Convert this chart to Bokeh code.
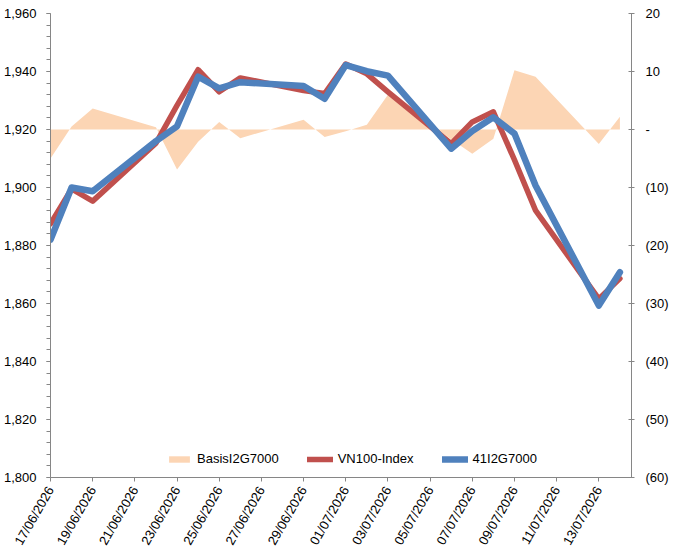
import math
from datetime import datetime, timedelta

from bokeh.plotting import figure
from bokeh.models import (Range1d, LinearAxis, FixedTicker, DatetimeTickFormatter,
                          NumeralTickFormatter, Legend, LegendItem, ColumnDataSource)
from bokeh.embed import file_html
from bokeh.resources import INLINE

# Trading days
dates = ["17/06/2026", "18/06/2026", "19/06/2026", "22/06/2026", "23/06/2026",
         "24/06/2026", "25/06/2026", "26/06/2026", "29/06/2026", "30/06/2026",
         "01/07/2026", "02/07/2026", "03/07/2026", "06/07/2026", "07/07/2026",
         "08/07/2026", "09/07/2026", "10/07/2026", "13/07/2026", "14/07/2026"]

# VN100 index level (left axis)
vn100 = [1887.5, 1899.5, 1895.3, 1915.3, 1928.3, 1940.6, 1933.0, 1937.8, 1933.4, 1932.4,
         1942.6, 1939.2, 1933.0, 1915.1, 1922.6, 1926.1, 1909.5, 1892.1, 1861.6, 1868.6]

# Futures contract 41I2G7000 (left axis)
fut = [1882.0, 1900.0, 1898.7, 1916.0, 1921.1, 1938.2, 1934.2, 1936.3, 1935.0, 1930.6,
       1942.2, 1940.1, 1938.6, 1913.4, 1919.5, 1924.2, 1918.6, 1900.7, 1859.3, 1870.8]

# Basis (right axis)
basis = [-5.0, 0.5, 3.6, 0.4, -6.9, -2.1, 1.3, -1.5, 1.7, -1.3,
         -0.3, 0.8, 6.0, -1.7, -4.2, -1.6, 10.2, 9.1, -2.5, 2.2]

x_tick_labels = ["17/06/2026", "19/06/2026", "21/06/2026", "23/06/2026", "25/06/2026",
                 "27/06/2026", "29/06/2026", "01/07/2026", "03/07/2026", "05/07/2026",
                 "07/07/2026", "09/07/2026", "11/07/2026", "13/07/2026"]

left_ticks = [1800, 1820, 1840, 1860, 1880, 1900, 1920, 1940, 1960]
right_ticks = [-60, -50, -40, -30, -20, -10, 0, 10, 20]
right_labels = {v: ("-" if v == 0 else (f"({abs(v)})" if v < 0 else str(v))) for v in right_ticks}

FONT = "Liberation Sans"
FSIZE = "13px"
AXIS_COLOR = "#868686"

EPOCH = datetime(1970, 1, 1)


def to_ms(d):
    return (d - EPOCH).total_seconds() * 1000.0


xs = [datetime.strptime(d, "%d/%m/%Y") for d in dates]
src = ColumnDataSource(dict(x=xs, vn100=vn100, fut=fut, basis=basis, zero=[0] * len(xs)))

x_start = xs[0]
x_end = x_start + timedelta(days=27.55)

p = figure(width=674, height=557, x_axis_type="datetime",
           x_range=Range1d(x_start, x_end), y_range=Range1d(1800, 1960),
           output_backend="svg", toolbar_location=None,
           min_border_left=49, min_border_right=43, min_border_top=13, min_border_bottom=80)
p.extra_y_ranges = {"basis": Range1d(-60, 20)}
p.outline_line_color = None
p.xgrid.visible = False
p.ygrid.visible = False
p.background_fill_color = "white"
p.border_fill_color = "white"

# Basis area on the right axis
area = p.varea(x="x", y1="zero", y2="basis", source=src, y_range_name="basis",
               fill_color="#FCD5B4", fill_alpha=1.0)

red = p.line(x="x", y="vn100", source=src, line_color="#C0504D", line_width=5.5,
             line_join="round", line_cap="round")
blue = p.line(x="x", y="fut", source=src, line_color="#4F81BD", line_width=6.5,
              line_join="round", line_cap="round")

# Left axis
ya = p.yaxis[0]
ya.ticker = FixedTicker(ticks=left_ticks, minor_ticks=list(range(1800, 1961, 4)))
ya.formatter = NumeralTickFormatter(format="0,0")
ya.axis_line_color = AXIS_COLOR
ya.major_tick_line_color = AXIS_COLOR
ya.minor_tick_line_color = AXIS_COLOR
ya.major_tick_out = 4
ya.major_tick_in = 0
ya.minor_tick_out = 4
ya.minor_tick_in = 0
ya.major_label_standoff = 10
ya.major_label_text_font = FONT
ya.major_label_text_font_size = FSIZE
ya.major_label_text_color = "black"

# Right axis
ra = LinearAxis(y_range_name="basis")
ra.ticker = FixedTicker(ticks=right_ticks)
ra.major_label_overrides = right_labels
ra.axis_line_color = AXIS_COLOR
ra.major_tick_line_color = AXIS_COLOR
ra.minor_tick_line_color = None
ra.major_tick_out = 3
ra.major_tick_in = 3
ra.major_label_standoff = 11
ra.major_label_text_font = FONT
ra.major_label_text_font_size = FSIZE
ra.major_label_text_color = "black"
p.add_layout(ra, "right")

# Bottom date axis
xa = p.xaxis[0]
x_ticks = [to_ms(datetime.strptime(t, "%d/%m/%Y")) for t in x_tick_labels]
xa.ticker = FixedTicker(ticks=x_ticks)
fmt = "%d/%m/%Y"
xa.formatter = DatetimeTickFormatter(days=fmt, months=fmt, years=fmt, hours=fmt,
                                     hourmin=fmt, minutes=fmt, minsec=fmt, seconds=fmt,
                                     milliseconds=fmt, microseconds=fmt)
xa.axis_line_color = AXIS_COLOR
xa.major_tick_line_color = AXIS_COLOR
xa.minor_tick_line_color = None
xa.major_tick_out = 4
xa.major_tick_in = 0
xa.major_label_standoff = 6
xa.major_label_orientation = math.radians(60)
xa.major_label_text_font = FONT
xa.major_label_text_font_size = FSIZE
xa.major_label_text_color = "black"

legend = Legend(items=[LegendItem(label="BasisI2G7000", renderers=[area]),
                       LegendItem(label="VN100-Index", renderers=[red]),
                       LegendItem(label="41I2G7000", renderers=[blue])],
                orientation="horizontal", location=(116, 11),
                background_fill_alpha=0, border_line_color=None,
                padding=0, margin=0, spacing=28, glyph_width=26, glyph_height=8,
                label_standoff=5, label_text_font=FONT, label_text_font_size=FSIZE,
                label_text_color="black")
p.add_layout(legend)

open("out.html", "w").write(file_html(p, INLINE))
